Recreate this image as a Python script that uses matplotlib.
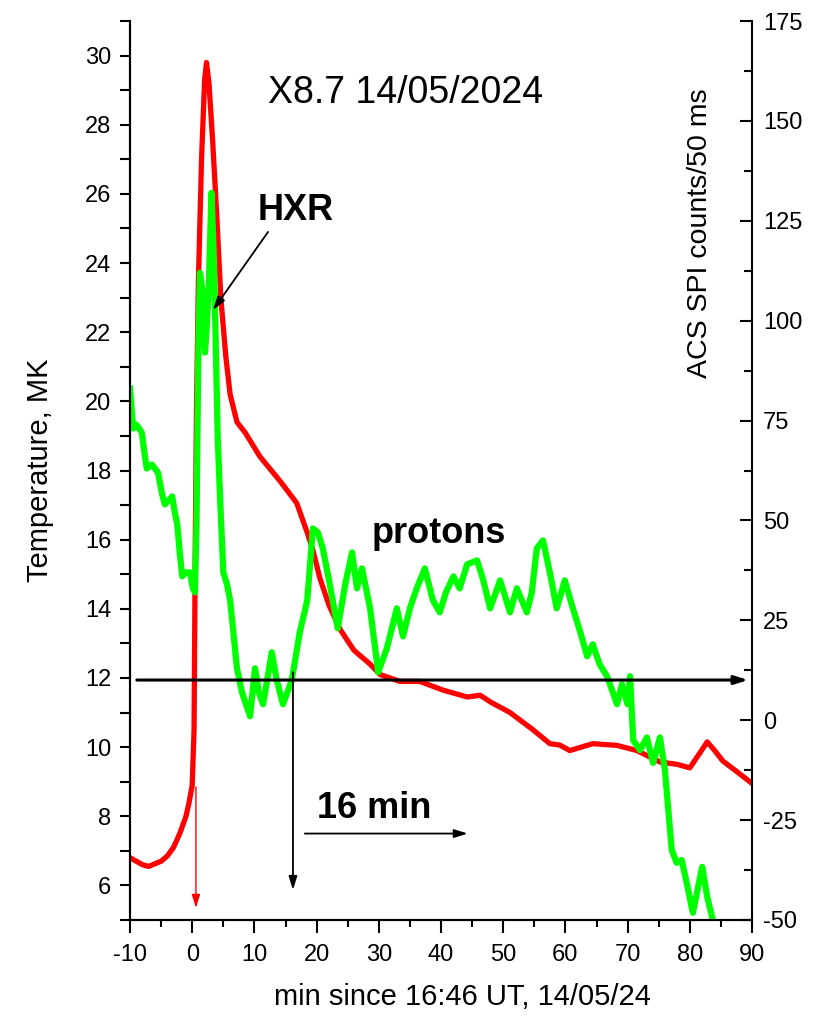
import matplotlib
matplotlib.use("Agg")
import matplotlib.pyplot as plt
from matplotlib.ticker import MultipleLocator

plt.rcParams['font.family'] = ['Liberation Sans', 'DejaVu Sans']
plt.rcParams['axes.unicode_minus'] = False

# temperature (red), minutes since 16:46 UT
temp_t = [-10, -8, -7, -5, -4, -3, -2, -1, -0.5, 0, 0.3, 0.5, 0.7, 1.0, 1.5, 2.0, 2.3,
          2.7, 3.3, 4.0, 4.6, 5.4, 6.1, 7.2, 8.5, 10.9, 14.1, 16.8, 18.5, 19.4, 20.5,
          22, 23.8, 26, 28.6, 30.2, 33.4, 36.6, 40.3, 44.2, 46.3, 48, 51.1, 54.8,
          57.5, 59.1, 60.7, 64.4, 68.3, 71.5, 75.2, 78, 80, 81.5, 82.8, 84, 85.3,
          87.5, 90]
temp_mk = [6.8, 6.6, 6.55, 6.7, 6.85, 7.1, 7.5, 8.0, 8.4, 8.9, 10.5, 16, 20, 23.5, 27,
           29.3, 29.8, 29.2, 27.5, 25.2, 23.0, 21.3, 20.2, 19.4, 19.1, 18.4, 17.7,
           17.06, 16.2, 15.7, 14.9, 14.1, 13.4, 12.8, 12.4, 12.1, 11.9, 11.9, 11.65,
           11.45, 11.5, 11.3, 11.0, 10.5, 10.1, 10.06, 9.9, 10.1, 10.05, 9.9, 9.57,
           9.5, 9.4, 9.8, 10.15, 9.9, 9.6, 9.3, 8.95]

# ACS SPI counts (green)
acs_t = [-10, -9.5, -9, -8.1, -7.6, -7.3, -6.5, -5.5, -4.9, -4.4, -3.2, -2.8, -2.4,
         -2, -1.6, -1, -0.35, 0.1, 0.45, 0.7, 1.0, 1.25, 1.6, 2.06, 2.4, 2.7, 3.1,
         3.5, 4.1, 4.5, 5, 5.6, 6.1, 7.2, 8, 9.3, 10.1, 10.7, 11.4, 12.8, 13.6, 14.6,
         16, 17.3, 18.5, 19.4, 20.2, 21, 22, 23.4, 24.6, 25.7, 26.5, 27.3, 28.6,
         29.9, 31.3, 32.9, 33.9, 35, 36.1, 37.4, 38.7, 39.8, 40.8, 42, 43, 44.2,
         45.8, 46.8, 47.9, 49.5, 51.1, 52.2, 53.8, 54.6, 55.4, 56.4, 57.5, 58.6,
         59.9, 61.2, 62.4, 63.5, 64.4, 65.5, 66.7, 68.3, 69.1, 70, 70.4, 70.9, 72,
         73.1, 74.1, 75.2, 76, 77.1, 77.9, 78.7, 79.5, 80.5, 81.3, 82, 82.8, 83.7]
acs_counts = [83, 73, 74, 72, 66, 63, 64, 62, 57, 54, 56, 52, 49, 42, 36, 37, 37, 33,
              32, 50, 95, 112, 108, 92, 100, 110, 132, 115, 71, 55, 37, 34, 30, 13, 7,
              1, 13, 7, 4, 17, 10, 4, 10, 22, 30, 48, 47, 43, 35, 23, 34, 42, 33, 38,
              28, 12, 18, 28, 21, 28, 33, 38, 30, 27, 32, 36, 33, 39, 40, 35, 28, 35,
              27, 33, 27, 32, 43, 45, 37, 28, 35, 28, 22, 16, 19, 14, 11, 4, 9, 4, 11,
              -5, -7.5, -4.3, -10.7, -4.3, -12.5, -32.5, -35.7, -35, -40.7, -48.2,
              -42, -36.7, -44.2, -50]

fig = plt.figure(figsize=(8.14, 10.17), dpi=100)
ax = fig.add_axes([130 / 814, 1 - 920 / 1017, 622 / 814, 899 / 1017])
ax2 = ax.twinx()

ax.plot(temp_t, temp_mk, color='#ff0000', lw=3.8, solid_joinstyle='round')
ax2.plot(acs_t, acs_counts, color='#00ff00', lw=4.5, solid_joinstyle='round')

ax.set_xlim(-10, 90)
ax.set_ylim(5, 31)
ax2.set_ylim(-50, 175)

ax.xaxis.set_major_locator(MultipleLocator(10))
ax.xaxis.set_minor_locator(MultipleLocator(5))
ax.yaxis.set_major_locator(MultipleLocator(2))
ax.yaxis.set_minor_locator(MultipleLocator(1))
ax2.yaxis.set_major_locator(MultipleLocator(25))
ax2.yaxis.set_minor_locator(MultipleLocator(12.5))

for a in (ax, ax2):
    a.spines['top'].set_visible(False)
    for s in a.spines.values():
        s.set_linewidth(1.5)
ax.spines['right'].set_visible(False)

ax.tick_params(axis='x', which='major', direction='out', length=9, width=1.5,
               labelsize=17, pad=8)
ax.tick_params(axis='x', which='minor', direction='out', length=5, width=1.5)
ax.tick_params(axis='y', which='major', direction='out', length=7.5, width=1.5,
               labelsize=17, pad=6)
ax.tick_params(axis='y', which='minor', direction='out', length=7.5, width=1.5)
ax2.tick_params(axis='y', which='major', direction='in', length=9, width=1.5,
                labelsize=17, pad=8)
ax2.tick_params(axis='y', which='minor', direction='in', length=6, width=1.5)

ax.set_xlabel('min since 16:46 UT, 14/05/24', fontsize=21, va='center')
ax.xaxis.set_label_coords(0.535, -0.0857)
ax.set_ylabel('Temperature, MK', fontsize=21, va='center', ha='center')
ax.yaxis.set_label_coords(-0.145, 0.5)
ax2.set_ylabel('ACS SPI counts/50 ms', fontsize=20.5, rotation=90, va='center', ha='center')
ax2.yaxis.set_label_coords(0.916, 0.764)

# text labels
ax2.text(12.2, 28.63, 'X8.7 14/05/2024', fontsize=27, transform=ax.transData)
ax2.text(10.58, 25.24, 'HXR', fontsize=26, fontweight='bold', transform=ax.transData)
ax2.text(28.9, 15.9, 'protons', fontsize=26, fontweight='bold', transform=ax.transData)
ax2.text(20.06, 7.95, '16 min', fontsize=26, fontweight='bold', transform=ax.transData)

# arrows (temperature coordinates)
arrow = dict(arrowstyle='-|>,head_length=0.8,head_width=0.25', color='black', lw=1.3,
             shrinkA=0, shrinkB=0)
ax2.annotate('', xy=(3.34, 22.64), xytext=(12.2, 24.9), xycoords=ax.transData,
             textcoords=ax.transData, arrowprops=arrow)
ax2.annotate('', xy=(89.4, 11.94), xytext=(-8.9, 11.94), xycoords=ax.transData,
             textcoords=ax.transData,
             arrowprops=dict(arrow, lw=2.2))
ax2.annotate('', xy=(16.2, 5.87), xytext=(16.2, 12.17), xycoords=ax.transData,
             textcoords=ax.transData, arrowprops=arrow)
ax2.annotate('', xy=(44.3, 7.5), xytext=(18.1, 7.5), xycoords=ax.transData,
             textcoords=ax.transData, arrowprops=arrow)
ax2.annotate('', xy=(0.6, 5.35), xytext=(0.6, 8.85), xycoords=ax.transData,
             textcoords=ax.transData, arrowprops=dict(arrow, color='#ff0000', lw=1.0))

fig.savefig('out.png', dpi=100)
